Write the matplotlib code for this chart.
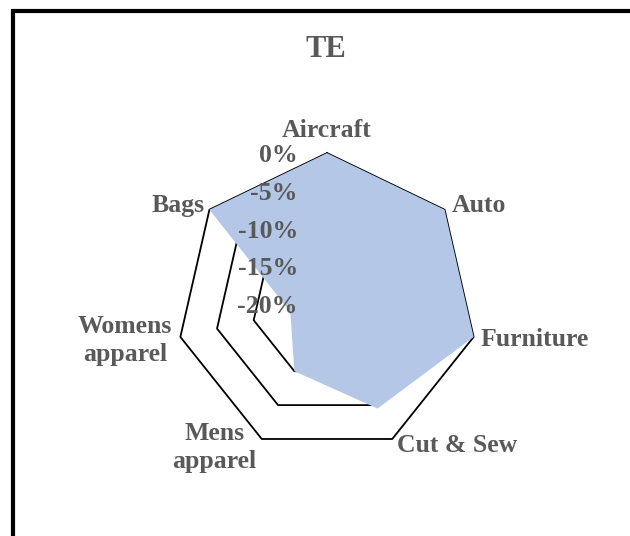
import numpy as np
import matplotlib.pyplot as plt
from matplotlib.patches import Rectangle

categories = ['Aircraft', 'Auto', 'Furniture', 'Cut & Sew',
              'Mens\napparel', 'Womens\napparel', 'Bags']
te_values = [0.0, 0.0, 0.0, -4.5, -10.0, -15.0, 0.0]
grid_levels = [-15, -10, -5, 0]
tick_values = [0, -5, -10, -15, -20]
tick_labels = ['0%', '-5%', '-10%', '-15%', '-20%']

# label offsets in points (dx, dy, ha)
label_offsets = [
    (0, 16, 'center'),
    (5, 3, 'left'),
    (5, -2, 'left'),
    (3.5, -4.5, 'left'),
    (-34, -6, 'center'),
    (-40, -2.5, 'center'),
    (-3.5, 3, 'right'),
]

grey = '#595959'
font = ['Liberation Serif', 'DejaVu Serif']

fig = plt.figure(figsize=(6.3, 5.36), dpi=100)
fig.patch.set_facecolor('white')

# chart frame (cut off at right and bottom)
fig.patches.append(Rectangle((13 / 630, -0.05), 1.1, 1 - 10.5 / 536 + 0.05,
                             transform=fig.transFigure, fill=False,
                             edgecolor='black', linewidth=3))

fig.text(0.518, 0.908, 'TE', ha='center', va='center', color=grey,
         fontsize=22, fontweight='bold', family=font)

ax = fig.add_axes([0.2803, 0.1532, 0.4775, 0.5612], projection='polar')
ax.set_theta_offset(np.pi / 2)
ax.set_theta_direction(-1)
ax.set_ylim(-20, 0)
ax.grid(False)
ax.spines['polar'].set_visible(False)
ax.set_xticks([])
ax.set_yticks([])
ax.patch.set_alpha(0)

n = len(categories)
theta = np.linspace(0, 2 * np.pi, n, endpoint=False)
theta_closed = np.append(theta, theta[0])

for lvl in grid_levels:
    ax.plot(theta_closed, [lvl] * (n + 1), color='black', lw=1.3, zorder=2,
            clip_on=False)

vals = np.append(te_values, te_values[0])
ax.fill(theta_closed, vals, color='#B4C7E7', lw=0, zorder=3, clip_on=False)

for t, lab in zip(tick_values, tick_labels):
    ax.annotate(lab, xy=(0, t), xytext=(-21, -2), textcoords='offset points',
                ha='right', va='center', color=grey, fontsize=18.5,
                fontweight='bold', family=font, zorder=5)

for th, lab, (dx, dy, ha) in zip(theta, categories, label_offsets):
    ax.annotate(lab, xy=(th, 0), xytext=(dx, dy), textcoords='offset points',
                ha=ha, va='center', color=grey, fontsize=18.5,
                fontweight='bold', family=font, linespacing=1.3,
                annotation_clip=False, zorder=5)

fig.savefig('out.png', dpi=100)
